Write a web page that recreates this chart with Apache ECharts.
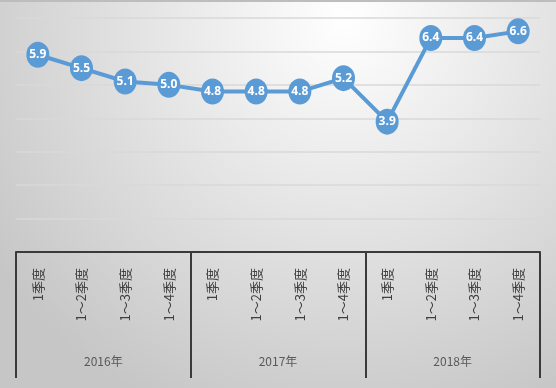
<!DOCTYPE html>
<html><head><meta charset="utf-8">
<script src="https://cdn.jsdelivr.net/npm/echarts@6/dist/echarts.min.js"></script>
<style>html,body{margin:0;padding:0;}#c{width:556px;height:388px;}</style>
</head><body><div id="c"></div>
<script>
var quarters = ['1季度','1～2季度','1～3季度','1～4季度','1季度','1～2季度','1～3季度','1～4季度','1季度','1～2季度','1～3季度','1～4季度'];
var years = ['2016年','2017年','2018年'];
var values = [5.9,5.5,5.1,5.0,4.8,4.8,4.8,5.2,3.9,6.4,6.4,6.6];

var chart = echarts.init(document.getElementById('c'));
chart.setOption({
  animation: false,
  backgroundColor: {type:'radial', x:0.62, y:0.05, r:1.1, colorStops:[{offset:0,color:'#ffffff'},{offset:1,color:'#c6c6c6'}]},
  graphic: [{type:'rect', shape:{x:0,y:0,width:556,height:2}, style:{fill:'#bdbdbd'}, silent:true}],
  grid: {left:16, right:16, top:18, bottom:136},
  xAxis: [{
    type:'category', data: quarters, position:'bottom', boundaryGap:true,
    axisLine:{show:true, lineStyle:{color:'#3a3a3a', width:2}},
    axisTick:{show:false},
    axisLabel:{rotate:90, margin:16, interval:0, color:'#404040', fontSize:13, fontFamily:'Noto Sans CJK SC'}
  },{
    type:'category', data: years, position:'bottom', boundaryGap:true,
    axisLine:{show:false},
    axisTick:{show:true, length:126, lineStyle:{color:'#3a3a3a', width:2}},
    axisLabel:{margin:103, color:'#595959', fontSize:12, fontFamily:'Noto Sans CJK SC'}
  }],
  yAxis: {
    type:'value', min:0, max:7, interval:1,
    axisLabel:{show:false}, axisLine:{show:false}, axisTick:{show:false},
    splitLine:{lineStyle:{color:'#d9d9d9', width:1.5}}
  },
  series: [{
    type:'line', data: values, xAxisIndex:0,
    lineStyle:{color:'#5b9bd5', width:4},
    itemStyle:{color:'#5b9bd5'},
    symbol:'circle', symbolSize:[23,26],
    label:{show:true, position:'inside', color:'#ffffff', fontWeight:'bold', fontSize:12, fontFamily:'Open Sans', formatter:function(p){return p.value.toFixed(1);}}
  }]
});
</script></body></html>
